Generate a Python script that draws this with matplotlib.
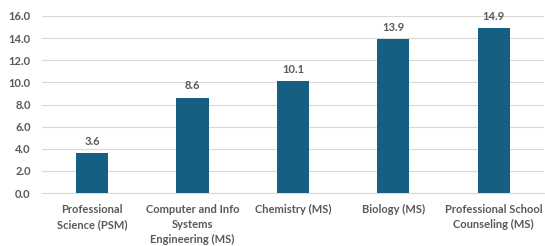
import matplotlib.pyplot as plt

# Dados do gráfico
categorias = ["Professional\nScience (PSM)",
              "Computer and Info\nSystems\nEngineering (MS)",
              "Chemistry (MS)",
              "Biology (MS)",
              "Professional School\nCounseling (MS)"]
valores = [3.6, 8.6, 10.1, 13.9, 14.9]
yticks = [0, 2, 4, 6, 8, 10, 12, 14, 16]

cor_barra = "#156082"
cor_texto = "#595959"

plt.rcParams["font.family"] = ["Lato", "DejaVu Sans"]

fig = plt.figure(figsize=(5.45, 2.46), dpi=100)
ax = fig.add_axes([0.077, 0.2154, 0.921, 0.7196])

x = range(len(valores))
barras = ax.bar(x, valores, width=0.32, color=cor_barra, zorder=3)

for xi, v in zip(x, valores):
    ax.text(xi, v + 0.6, f"{v:.1f}", ha="center", va="bottom",
            fontsize=8, fontweight="bold", color=cor_texto)

ax.set_xlim(-0.5, len(valores) - 0.5)
ax.set_ylim(0, 16)
ax.set_yticks(yticks)
ax.set_yticklabels([f"{t:.1f}" for t in yticks])
ax.set_xticks(list(x))
ax.set_xticklabels(categorias, linespacing=1.45)

ax.tick_params(axis="both", length=0, labelsize=8, labelcolor=cor_texto)
ax.tick_params(axis="x", pad=8)
ax.tick_params(axis="y", pad=8)
for lab in ax.get_xticklabels() + ax.get_yticklabels():
    lab.set_fontweight("bold")

ax.grid(axis="y", color="#d9d9d9", linewidth=0.8, zorder=0)
for s in ["top", "right", "left"]:
    ax.spines[s].set_visible(False)
ax.spines["bottom"].set_color("#d9d9d9")
ax.spines["bottom"].set_linewidth(0.8)

plt.savefig("out.png", dpi=100)
